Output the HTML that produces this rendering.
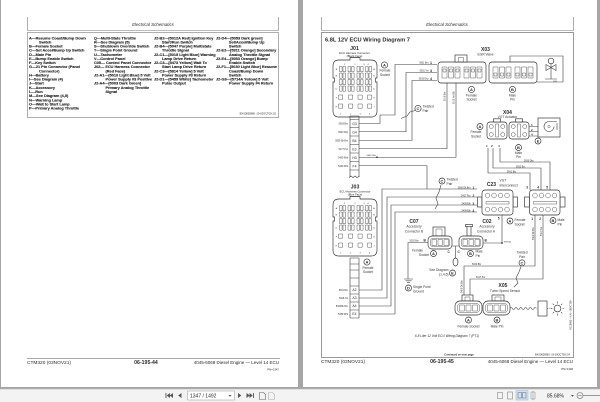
<!DOCTYPE html>
<html><head><meta charset="utf-8">
<style>
html,body{margin:0;padding:0;width:600px;height:402px;overflow:hidden;background:#a6a6a6}
svg{display:block}
text{font-family:"Liberation Sans",Arial,sans-serif;fill:#2a2a2a}
.lg text{font-size:3.85px;font-weight:bold;fill:#1c1c1c;stroke:#1c1c1c;stroke-width:0.12px}
.w{fill:none;stroke:#3c3c3c;stroke-width:.6}
.o{fill:#fff;stroke:#2e2e2e;stroke-width:.65}
.i{fill:none;stroke:#3a3a3a;stroke-width:.42}
.t{font-size:2.3px;fill:#333}
.s{font-size:3.3px;fill:#333}
.b{font-weight:bold}
.c{text-anchor:middle}
.e{text-anchor:end}
</style></head><body>
<svg xmlns="http://www.w3.org/2000/svg" width="600" height="402" viewBox="0 0 600 402">
<rect width="600" height="402" fill="#a6a6a6"/>
<rect x="1" y="0" width="297" height="387" fill="#fff"/>
<rect x="303" y="0" width="294" height="387" fill="#fff"/>
<rect x="0" y="389" width="600" height="13" fill="#f3f3f3"/>
<line x1="0" y1="389.2" x2="600" y2="389.2" stroke="#cfcfcf" stroke-width="0.6"/>

<!-- LEFT PAGE -->
<g fill="none" stroke="#7a7a7a" stroke-width="0.6">
<path d="M27.5,17 V30.5 H278.5 V17"/>
<rect x="27.5" y="32.5" width="251" height="85"/>
<line x1="27" y1="358.5" x2="280" y2="358.5" stroke="#555"/>
</g>
<text x="153" y="25.8" font-size="4.4" font-style="italic" class="c" fill="#444">Electrical Schematics</text>

<g class="lg">
<text x="29" y="39.3">A—Resume Coast/Bump Down</text>
<text x="39" y="43.4">Switch</text>
<text x="29" y="47.6">B—Female Socket</text>
<text x="29" y="51.7">C—Set Accel/Bump Up Switch</text>
<text x="29" y="55.8">D—Male Pin</text>
<text x="29" y="60">E—Bump Enable Switch</text>
<text x="29" y="64.1">F—Key Switch</text>
<text x="29" y="68.2">G—21 Pin Connector (Panel</text>
<text x="39" y="72.3">Connector)</text>
<text x="29" y="76.5">H—Battery</text>
<text x="29" y="80.6">I—See Diagram (4)</text>
<text x="29" y="84.7">J—Start</text>
<text x="29" y="88.9">K—Accessory</text>
<text x="29" y="93">L—Run</text>
<text x="29" y="97.1">M—See Diagram (4,5)</text>
<text x="29" y="101.3">N—Warning Lamp</text>
<text x="29" y="105.4">O—Wait to Start Lamp</text>
<text x="29" y="109.5">P—Primary Analog Throttle</text>

<text x="94" y="39.3">Q—Multi-State Throttle</text>
<text x="94" y="43.4">R—See Diagram (5)</text>
<text x="94" y="47.6">S—Shutdown Override Switch</text>
<text x="94" y="51.7">T—Single Point Ground</text>
<text x="94" y="55.8">U—Tachometer</text>
<text x="94" y="60">V—Control Panel</text>
<text x="94" y="64.1">C05— Control Panel Connector</text>
<text x="94" y="68.2">J02— ECU Harness Connector</text>
<text x="105.5" y="72.3">(Red Face)</text>
<text x="94" y="76.5">J2-A1—[5010 Light Blue] 5 Volt</text>
<text x="105.5" y="80.6">Power Supply #3 Positive</text>
<text x="94" y="84.7">J2-A4—[5003 Dark Green]</text>
<text x="105.5" y="88.9">Primary Analog Throttle</text>
<text x="105.5" y="93">Signal</text>

<text x="154" y="39.3">J2-B2—[5012A Red] Ignition Key</text>
<text x="162" y="43.4">Start/Run Switch</text>
<text x="154" y="47.6">J2-B4—[5047 Purple] Multistate</text>
<text x="162" y="51.7">Throttle Signal</text>
<text x="154" y="55.8">J2-C1—[5015 Light Blue] Warning</text>
<text x="162" y="60">Lamp Drive Return</text>
<text x="154" y="64.1">J2-C3—[5473 Yellow] Wait To</text>
<text x="162" y="68.2">Start Lamp Drive Return</text>
<text x="154" y="72.3">J2-C3—[5814 Yellow] 5 Volt</text>
<text x="162" y="76.5">Power Supply #3 Return</text>
<text x="154" y="80.6">J2-D1—[5459 White] Tachometer</text>
<text x="162" y="84.7">Pulse Output</text>

<text x="216" y="39.3">J2-D4—[5053 Dark green]</text>
<text x="229" y="43.4">Set/Accel/Bump Up</text>
<text x="229" y="47.6">Switch</text>
<text x="216" y="51.7">J2-E2—[5911 Orange] Secondary</text>
<text x="229" y="55.8">Analog Throttle Signal</text>
<text x="216" y="60">J2-E4—[5053 Orange] Bump</text>
<text x="229" y="64.1">Enable Switch</text>
<text x="216" y="68.2">J2-F1—[5030 Light Blue] Resume</text>
<text x="229" y="72.3">Coast/Bump Down</text>
<text x="229" y="76.5">Switch</text>
<text x="216" y="80.6">J2-G3—[5714A Yellow] 5 Volt</text>
<text x="229" y="84.7">Power Supply #4 Return</text>
</g>
<text x="276" y="114.5" font-size="2.6" class="e" fill="#555">BXS0828980 -19-03OCT09-1/2</text>

<text x="27" y="364" font-size="4.8">CTM320 (03NOV21)</text>
<text x="146" y="364" font-size="5.2" class="b c">06-195-44</text>
<text x="279" y="364" font-size="4.5" class="e">4045-6068 Diesel Engine — Level 14 ECU</text>
<text x="279" y="370.5" font-size="2.8" class="e">PN=1347</text>

<!-- RIGHT PAGE -->
<g fill="none" stroke="#7a7a7a" stroke-width="0.6">
<path d="M321.5,17 V30.5 H573.5 V17"/>
<rect x="321.5" y="32.5" width="252" height="325" stroke="#555"/>
</g>
<text x="447" y="25.8" font-size="4.4" font-style="italic" class="c" fill="#444">Electrical Schematics</text>
<text x="325" y="41.3" font-size="5.7" class="b">6.8L 12V ECU Wiring Diagram 7</text>

<!-- J01 -->
<text x="354.5" y="50" font-size="5.2" class="b c">J01</text>
<text x="354.5" y="53.8" font-size="2.8" class="c">ECU Harness Connector</text>
<text x="354.5" y="57" font-size="2.8" class="c">(Black Face)</text>
<g transform="translate(333,60)">
<path class="o" d="M6,0 H17 V-2.5 H27 V0 H38 Q44,0 44,6 V18 H42.5 V22 H44 V51 Q44,57 38,57 H6 Q0,57 0,51 V22 H1.5 V18 H0 V6 Q0,0 6,0 Z"/>
<path class="i" d="M6.5,6.5h2.6v5.2h-2.6zM10,6.5h2.6v5.2h-2.6zM15,6.5h2.6v5.2h-2.6zM18.5,6.5h2.6v5.2h-2.6zM24,6.5h2.6v5.2h-2.6zM27.5,6.5h2.6v5.2h-2.6zM32.5,6.5h2.6v5.2h-2.6zM36,6.5h2.6v5.2h-2.6z
M6.5,13h2.6v5.2h-2.6zM10,13h2.6v5.2h-2.6zM15,13h2.6v5.2h-2.6zM18.5,13h2.6v5.2h-2.6zM24,13h2.6v5.2h-2.6zM27.5,13h2.6v5.2h-2.6zM32.5,13h2.6v5.2h-2.6zM36,13h2.6v5.2h-2.6z
M6.5,19.5h2.6v5.2h-2.6zM10,19.5h2.6v5.2h-2.6zM15,19.5h2.6v5.2h-2.6zM18.5,19.5h2.6v5.2h-2.6zM24,19.5h2.6v5.2h-2.6zM27.5,19.5h2.6v5.2h-2.6zM32.5,19.5h2.6v5.2h-2.6zM36,19.5h2.6v5.2h-2.6z
M6.5,26h2.6v5.2h-2.6zM10,26h2.6v5.2h-2.6zM15,26h2.6v5.2h-2.6zM18.5,26h2.6v5.2h-2.6zM24,26h2.6v5.2h-2.6zM27.5,26h2.6v5.2h-2.6zM32.5,26h2.6v5.2h-2.6zM36,26h2.6v5.2h-2.6z
M5.5,35h4.2v4.2h-4.2zM15.5,35h4.2v4.2h-4.2zM25,35h4.2v4.2h-4.2zM34.5,35h4.2v4.2h-4.2z
M5.5,44h4.2v4.2h-4.2zM15.5,44h4.2v4.2h-4.2zM25,44h4.2v4.2h-4.2zM34.5,44h4.2v4.2h-4.2z"/>
<g font-size="2.2" class="c"><text x="3.4" y="10">A</text><text x="3.4" y="16.5">B</text><text x="3.4" y="29.5">D</text><text x="3.4" y="38.5">F</text><text x="3.4" y="47.5">H</text>
<text x="41" y="10">A</text><text x="41" y="16.5">B</text><text x="41" y="29.5">D</text><text x="41" y="38.5">G</text><text x="41" y="47.5">J</text>
<text x="11.5" y="5">1</text><text x="22" y="5">2</text><text x="31" y="5">3</text><text x="35" y="5">4</text>
<text x="7.6" y="54.5">1</text><text x="17.6" y="54.5">2</text><text x="27.1" y="54.5">3</text><text x="36.6" y="54.5">4</text></g>
</g>
<circle cx="384.5" cy="65" r="3.1" class="o" stroke-width="0.5"/><text x="384.5" y="66.5" font-size="4" class="b c">A</text>
<text x="385" y="71.5" class="s c">Female</text><text x="385" y="75.8" class="s c">Socket</text>

<!-- J01 strip -->
<g class="w" stroke="#333">
<path d="M350,116 V177 M359,116 V177 M350,116 H359 M350,119.5 H359 M350,127.5 H359 M350,136 H359 M350,144.5 H359 M350,153 H359 M350,161.5 H359 M350,170 H359"/>
<path d="M349,177.6 L351,176 L353,177.6 L355,176 L357,177.6 L359.5,176"/>
</g>
<g font-size="3.4" class="c"><text x="354.5" y="125">G3</text><text x="354.5" y="133.3">G4</text><text x="354.5" y="141.8">B4</text><text x="354.5" y="150.3">E3</text><text x="354.5" y="158.8">H3</text><text x="354.5" y="167.3">F4</text></g>
<g class="t e"><text x="348" y="124.6">5903 Brn</text><text x="348" y="132.9">5933 Dky</text><text x="348" y="141.4">5929 Dk Brn</text><text x="348" y="149.9">5477 Pur</text><text x="348" y="158.4">5459 Wht</text><text x="348" y="166.9">5460 Wht</text></g>

<!-- J03 -->
<text x="355" y="188.5" font-size="5.2" class="b c">J03</text>
<text x="355" y="192.3" font-size="2.8" class="c">ECU Harness Connector</text>
<text x="355" y="195.6" font-size="2.8" class="c">(Blue Face)</text>
<g transform="translate(333,199)">
<path class="o" d="M6,0 H17 V-2.5 H27 V0 H38 Q44,0 44,6 V18 H42.5 V22 H44 V51 Q44,57 38,57 H6 Q0,57 0,51 V22 H1.5 V18 H0 V6 Q0,0 6,0 Z"/>
<path class="i" d="M6.5,6.5h2.6v5.2h-2.6zM10,6.5h2.6v5.2h-2.6zM15,6.5h2.6v5.2h-2.6zM18.5,6.5h2.6v5.2h-2.6zM24,6.5h2.6v5.2h-2.6zM27.5,6.5h2.6v5.2h-2.6zM32.5,6.5h2.6v5.2h-2.6zM36,6.5h2.6v5.2h-2.6z
M6.5,13h2.6v5.2h-2.6zM10,13h2.6v5.2h-2.6zM15,13h2.6v5.2h-2.6zM18.5,13h2.6v5.2h-2.6zM24,13h2.6v5.2h-2.6zM27.5,13h2.6v5.2h-2.6zM32.5,13h2.6v5.2h-2.6zM36,13h2.6v5.2h-2.6z
M6.5,19.5h2.6v5.2h-2.6zM10,19.5h2.6v5.2h-2.6zM15,19.5h2.6v5.2h-2.6zM18.5,19.5h2.6v5.2h-2.6zM24,19.5h2.6v5.2h-2.6zM27.5,19.5h2.6v5.2h-2.6zM32.5,19.5h2.6v5.2h-2.6zM36,19.5h2.6v5.2h-2.6z
M6.5,26h2.6v5.2h-2.6zM10,26h2.6v5.2h-2.6zM15,26h2.6v5.2h-2.6zM18.5,26h2.6v5.2h-2.6zM24,26h2.6v5.2h-2.6zM27.5,26h2.6v5.2h-2.6zM32.5,26h2.6v5.2h-2.6zM36,26h2.6v5.2h-2.6z
M5.5,35h4.2v4.2h-4.2zM15.5,35h4.2v4.2h-4.2zM25,35h4.2v4.2h-4.2zM34.5,35h4.2v4.2h-4.2z
M5.5,44h4.2v4.2h-4.2zM15.5,44h4.2v4.2h-4.2zM25,44h4.2v4.2h-4.2zM34.5,44h4.2v4.2h-4.2z"/>
<g font-size="2.2" class="c"><text x="3.4" y="10">A</text><text x="3.4" y="16.5">B</text><text x="3.4" y="29.5">D</text><text x="3.4" y="38.5">F</text><text x="3.4" y="47.5">H</text>
<text x="41" y="10">A</text><text x="41" y="16.5">B</text><text x="41" y="29.5">D</text><text x="41" y="38.5">G</text><text x="41" y="47.5">J</text>
<text x="11.5" y="5">1</text><text x="22" y="5">2</text><text x="31" y="5">3</text><text x="35" y="5">4</text>
<text x="7.6" y="54.5">1</text><text x="17.6" y="54.5">2</text><text x="27.1" y="54.5">3</text><text x="36.6" y="54.5">4</text></g>
</g>
<g class="w" stroke="#333">
<path d="M350,258 V318 M359,258 V318 M350,258 H359 M350,264 H359 M350,270 H359 M350,278 H359 M350,286 H359 M350,294 H359 M350,302 H359 M350,310 H359 M350,318 H359"/>
</g>
<g font-size="3.4" class="c"><text x="354.5" y="291.2">A2</text><text x="354.5" y="299.2">A3</text><text x="354.5" y="307.2">A4</text><text x="354.5" y="315.2">E4</text></g>
<g class="t e"><text x="348" y="291">5911 Brn</text><text x="348" y="299">5918 Yel</text><text x="348" y="307">5460Dk Brn</text><text x="348" y="315">5459 Wht</text></g>
<circle cx="367" cy="262" r="3.1" class="o" stroke-width="0.5"/><text x="367" y="263.5" font-size="4" class="b c">A</text>
<text x="368" y="268.8" class="s c">Female</text><text x="368" y="273.2" class="s c">Socket</text>

<!-- WIRES -->
<g class="w">
<path d="M437,64.5 H395 V115 H380 V123.5 H359"/>
<path d="M437,72.5 H406 V131.75 H359"/>
<path d="M437,80.5 H412 V140.25 H359"/>
<path d="M447,83 V148.75 H359"/>
<path d="M456,83 V157.25 H359"/>
<path d="M359,165.75 H427 V189"/>
<path d="M359,290 H382 V189 H477"/>
<path d="M359,298 H387 V197 H477"/>
<path d="M359,306 H391 V205 H477"/>
<path d="M359,314 H395 V212 H477"/>
<path d="M488,148 V173 H530 V190"/>
<path d="M493,148 V168 H541 V190"/>
<path d="M500,148 V162 H550 V190"/>
<path d="M535,215 V266 H464 V295"/>
<path d="M543,215 V279 H470 V295"/>
<path d="M502,215 V243 H483"/>
<path d="M428,242.5 H408 V279"/>
<path d="M452,246 H459 M455.5,246 V258"/>
<path d="M529,126.5 H538 M529,131.5 H538 M529,136 H538"/>
<path d="M404,279 H413 M405.5,280.8 H411.5 M407,282.6 H410"/>
<path d="M415,110.5 L410,112 L407,116 L401,118.5"/>
<path d="M441,185 L439,192 L436,198 L438,204 L435,209"/>
<path d="M521,266.5 L519,272 L516,278 L518,283 L514,287"/>
</g>
<circle cx="377" cy="157.25" r="0.9" fill="#333"/>
<circle cx="502" cy="243" r="0.9" fill="#333"/>
<text x="366.5" y="155.8" font-size="2.2">5459 Wht</text>

<!-- X03 labels -->
<g class="t e"><text x="428.5" y="63.7">5911 Brn</text><text x="428.5" y="71.7">5931 Yel</text><text x="428.5" y="79.7">5933 Dky</text></g>
<g font-size="3.6" class="b"><text x="430" y="64">1</text><text x="430" y="72">3</text><text x="430" y="80">4</text></g>
<text transform="translate(445.6,101) rotate(-90)" class="t">5916 Brn</text>
<text transform="translate(454.6,104) rotate(-90)" class="t">5918 Yel Blk</text>

<!-- (C) twisted pair 1 -->
<circle cx="418" cy="108.5" r="3.1" class="o" stroke-width="0.5"/><text x="418" y="110" font-size="4" class="b c">C</text>
<text x="422.5" y="107.5" class="s">Twisted</text><text x="422.5" y="112" class="s">Pair</text>

<!-- X03 connectors -->
<text x="485.5" y="51" font-size="5" class="b c">X03</text>
<text x="485.5" y="55.3" class="s c">EGR Valve</text>
<rect x="438" y="62" width="48" height="21" rx="3" class="o"/>
<rect x="455" y="55" width="12" height="7" class="o"/>
<rect x="458.5" y="57.5" width="5" height="4.5" class="i"/>
<path class="i" d="M442,67h5v11h-5zM448.5,67h5v11h-5zM455,67h5v11h-5zM464,67h5v11h-5zM470.5,67h5v11h-5zM477,67h5v11h-5z
M443,69h3v3h-3zM449.5,69h3v3h-3zM456,69h3v3h-3zM465,69h3v3h-3zM471.5,69h3v3h-3zM478,69h3v3h-3z"/>
<rect x="489" y="62" width="48" height="21" rx="3" class="o"/>
<path class="i" d="M493,67h5v11h-5zM499.5,67h5v11h-5zM506,67h5v11h-5zM515,67h5v11h-5zM521.5,67h5v11h-5zM528,67h5v11h-5z
M494,73h3v3h-3zM500.5,73h3v3h-3zM507,73h3v3h-3zM516,73h3v3h-3zM522.5,73h3v3h-3zM529,73h3v3h-3z"/>
<path class="w" d="M537,82 H563 V56 H510 V62"/>
<circle cx="551" cy="61" r="2.8" class="o" stroke-width="0.5"/>
<path class="w" d="M546,64.5 L556,70.5 V64.5 L546,70.5 Z M551,63.8 V79 M545,79 H557"/>
<text x="553" y="81.8" font-size="1.8">5003</text>
<circle cx="471.5" cy="89.5" r="3.1" class="o" stroke-width="0.5"/><text x="471.5" y="91" font-size="4" class="b c">A</text>
<text x="471.5" y="96.3" class="s c">Female</text><text x="471.5" y="100.4" class="s c">Socket</text>
<circle cx="512.5" cy="89.5" r="3.1" class="o" stroke-width="0.5"/><text x="512.5" y="91" font-size="4" class="b c">B</text>
<text x="512.5" y="96.3" class="s c">Male</text><text x="512.5" y="100.4" class="s c">Pin</text>

<!-- X04 -->
<text x="507.5" y="113.8" font-size="5" class="b c">X04</text>
<text x="507.5" y="118" class="s c">VGT Actuator</text>
<rect x="487" y="122" width="20" height="17" rx="3" class="o"/>
<rect x="493.5" y="118.8" width="7" height="3.2" class="o"/>
<path class="i" d="M495.5,124h3v13h-3z"/>
<g class="i"><circle cx="491.3" cy="126.5" r="2"/><circle cx="502.7" cy="126.5" r="2"/><circle cx="491.3" cy="134.5" r="2"/><circle cx="502.7" cy="134.5" r="2"/></g>
<rect x="509" y="122" width="20" height="17" rx="3" class="o"/>
<rect x="515.5" y="118.8" width="7" height="3.2" class="o"/>
<path class="i" d="M517.5,124h3v13h-3z"/>
<g class="i"><circle cx="513.3" cy="126.5" r="2"/><circle cx="524.7" cy="126.5" r="2"/><circle cx="513.3" cy="134.5" r="2"/><circle cx="524.7" cy="134.5" r="2"/></g>
<g font-size="3" class="b"><text x="531" y="125.8">1</text><text x="531" y="130.8">2</text><text x="531" y="135.4">4</text>
<text x="486" y="146.8">1</text><text x="491" y="146.8">2</text><text x="498" y="146.8">4</text></g>
<rect x="538" y="118" width="22" height="19" class="o"/>
<path class="w" d="M557,121.5 H549 A5,5 0 1 0 554,126.5 M557,123 V130"/>
<circle cx="549" cy="126.5" r="1.2" class="i"/>
<circle cx="538" cy="141" r="3" class="o" stroke-width="0.5"/><text x="538" y="142.4" font-size="3.8" class="b c">E</text>
<circle cx="480" cy="126.5" r="3" class="o" stroke-width="0.5"/><text x="480" y="128" font-size="4" class="b c">A</text>
<text x="476" y="133" class="s c">Female</text><text x="476" y="137.4" class="s c">Socket</text>
<circle cx="518.5" cy="147.5" r="3" class="o" stroke-width="0.5"/><text x="518.5" y="149" font-size="4" class="b c">B</text>
<text x="518.5" y="153.8" class="s c">Male</text><text x="518.5" y="157.8" class="s c">Pin</text>
<g class="t"><text x="524" y="161.3">5930 Dky</text><text x="516" y="167.3">5932 Brn</text><text x="507" y="172.3">5931 Blu</text></g>

<!-- C23 -->
<text x="491.5" y="185.8" font-size="5" class="b c">C23</text>
<text x="499.5" y="181.5" class="s">VGT</text><text x="499.5" y="186.3" class="s">Interconnect</text>
<circle cx="442" cy="181" r="3" class="o" stroke-width="0.5"/><text x="442" y="182.5" font-size="4" class="b c">C</text>
<text x="446.5" y="180.3" class="s">Twisted</text><text x="446.5" y="184.8" class="s">Pair</text>
<g class="t e"><text x="470.5" y="188.3">5930 Dk Brn</text><text x="470.5" y="196.3">5417 Pur</text><text x="470.5" y="204.3">5409 Blk</text><text x="470.5" y="211.3">5409 Blk</text></g>
<g font-size="3.2" class="b"><text x="472.5" y="188.8">1</text><text x="472.5" y="196.8">2</text><text x="472.5" y="204.8">3</text><text x="472.5" y="211.8">4</text></g>
<rect x="477.5" y="197" width="4.5" height="10" class="o"/><rect x="513" y="197" width="4.5" height="10" class="o"/>
<rect x="482" y="190" width="31" height="25" rx="3" class="o"/>
<g class="i"><ellipse cx="487.5" cy="195.5" rx="2.3" ry="2.4"/><ellipse cx="494" cy="195.5" rx="2.3" ry="2.4"/><ellipse cx="500.5" cy="195.5" rx="2.3" ry="2.4"/><ellipse cx="507" cy="195.5" rx="2.3" ry="2.4"/>
<ellipse cx="487.5" cy="209.5" rx="2.3" ry="2.4"/><ellipse cx="494" cy="209.5" rx="2.3" ry="2.4"/><ellipse cx="500.5" cy="209.5" rx="2.3" ry="2.4"/><ellipse cx="507" cy="209.5" rx="2.3" ry="2.4"/>
<rect x="486" y="201.5" width="23" height="2.5"/></g>
<rect x="524.5" y="197" width="5" height="10" class="o"/><rect x="560" y="197" width="5" height="10" class="o"/>
<rect x="529.5" y="190" width="30.5" height="25" rx="3" class="o"/>
<g class="i"><ellipse cx="535" cy="195.5" rx="2.3" ry="2.4"/><ellipse cx="541.5" cy="195.5" rx="2.3" ry="2.4"/><ellipse cx="548" cy="195.5" rx="2.3" ry="2.4"/><ellipse cx="554.5" cy="195.5" rx="2.3" ry="2.4"/>
<ellipse cx="535" cy="209.5" rx="2.3" ry="2.4"/><ellipse cx="541.5" cy="209.5" rx="2.3" ry="2.4"/><ellipse cx="548" cy="209.5" rx="2.3" ry="2.4"/><ellipse cx="554.5" cy="209.5" rx="2.3" ry="2.4"/>
<rect x="533.5" y="201.5" width="23" height="2.5"/></g>
<g font-size="3.2" class="b"><text x="526.3" y="188.5">3</text><text x="537.3" y="188.5">4</text><text x="546.3" y="188.5">5</text>
<text x="531.3" y="220">1</text><text x="539.3" y="220">2</text><text x="497.8" y="219.5">5</text></g>
<text transform="translate(533.8,240) rotate(-90)" class="t">5409 Dk Brn</text>
<text transform="translate(541.8,236) rotate(-90)" class="t">5417 Pur</text>
<circle cx="510" cy="221" r="3" class="o" stroke-width="0.5"/><text x="510" y="222.5" font-size="4" class="b c">A</text>
<text x="514.5" y="220.8" class="s">Female</text><text x="514.5" y="225.3" class="s">Socket</text>
<circle cx="553" cy="220.5" r="3" class="o" stroke-width="0.5"/><text x="553" y="222" font-size="4" class="b c">B</text>
<text x="557.5" y="220.8" class="s">Male</text><text x="557.5" y="225.3" class="s">Pin</text>

<!-- C07 / C02 -->
<text x="414" y="222.8" font-size="5" class="b c">C07</text>
<text x="414" y="227.6" class="s c">Accessory</text><text x="414" y="232.3" class="s c">Connector B</text>
<text x="487" y="222.8" font-size="5" class="b c">C02</text>
<text x="487" y="227.6" class="s c">Accessory</text><text x="486" y="232.3" class="s c">Connector A</text>
<rect x="433" y="227" width="12" height="9" class="o"/><rect x="436" y="229" width="6" height="7" class="i"/>
<rect x="428" y="236" width="24" height="13" rx="4" class="o"/>
<rect x="430.5" y="238.5" width="19" height="8" rx="2" class="i"/>
<path class="i" d="M432,239.5h4.5v6h-4.5zM438,239.5h4.5v6h-4.5zM444,239.5h4.5v6h-4.5z"/>
<rect x="467" y="226" width="4" height="10" class="o"/><rect x="465.5" y="224.5" width="7" height="2" class="o"/>
<rect x="459" y="236" width="24" height="13" rx="4" class="o"/>
<rect x="461.5" y="238.5" width="19" height="8" rx="2" class="i"/>
<path class="i" d="M463,239.5h4.5v6h-4.5zM469,239.5h4.5v6h-4.5zM475,239.5h4.5v6h-4.5z"/>
<g font-size="3.2" class="b"><text x="423.5" y="241.6">B</text><text x="484.5" y="241.6">B</text><text x="447.5" y="253">C</text><text x="457.5" y="253">C</text></g>
<text x="409.5" y="241.5" class="t">5030 Brn</text>
<text x="504" y="242.3" font-size="2">SP0004</text>
<text x="423" y="251.3" class="s e">Female</text><text x="429" y="255.8" class="s e">Socket</text>
<circle cx="433.5" cy="253.5" r="3" class="o" stroke-width="0.5"/><text x="433.5" y="255" font-size="4" class="b c">A</text>
<circle cx="470.5" cy="253.5" r="3" class="o" stroke-width="0.5"/><text x="470.5" y="255" font-size="4" class="b c">B</text>
<text x="475.5" y="252.3" class="s">Male</text><text x="475.5" y="256.8" class="s">Pin</text>
<ellipse cx="455.5" cy="262" rx="2.5" ry="4" class="o" stroke-width="0.5"/>
<circle cx="452.5" cy="273" r="3" class="o" stroke-width="0.5"/><text x="452.5" y="274.5" font-size="4" class="b c">E</text>
<text x="448.5" y="271" class="s e">See Diagram</text><text x="448.5" y="275.5" class="s e">(1,4,6)</text>
<circle cx="408.5" cy="288" r="3" class="o" stroke-width="0.5"/><text x="408.5" y="289.5" font-size="4" class="b c">D</text>
<text x="413" y="288" class="s">Single Point</text><text x="413" y="292.5" class="s">Ground</text>
<g class="t"><text x="472" y="265.2">5030 Blk</text><text x="476" y="278.2">5417 Pur</text></g>
<text transform="translate(462.6,293) rotate(-90)" class="t">5409 Dk Brn</text>

<!-- twisted pair 3 -->
<text x="522" y="253.5" class="s c">Twisted</text><text x="522" y="258" class="s c">Pair</text>
<circle cx="522" cy="262.8" r="3" class="o" stroke-width="0.5"/><text x="522" y="264.3" font-size="4" class="b c">C</text>

<!-- X05 -->
<text x="503" y="287" font-size="5" class="b c">X05</text>
<text x="505" y="291.8" class="s c">Turbo Speed Sensor</text>
<rect x="462" y="295" width="11" height="6" class="o"/><rect x="465" y="297" width="5" height="4" class="i"/>
<rect x="455" y="301" width="27" height="14" rx="5" class="o"/>
<rect x="457.5" y="303.5" width="22" height="9" rx="3" class="i"/>
<path class="i" d="M459.5,305h5v6h-5zM466,305h5v6h-5zM472.5,305h5v6h-5z"/>
<rect x="492" y="295" width="12" height="6" class="o"/><rect x="495" y="297" width="6" height="4" class="i"/>
<rect x="483" y="301" width="27" height="14" rx="5" class="o"/>
<rect x="485.5" y="303.5" width="22" height="9" rx="3" class="i"/>
<path class="i" d="M487.5,305h5v6h-5zM494,305h5v6h-5zM500.5,305h5v6h-5z"/>
<path class="w" d="M510,308.5 q1.2,-2 2.4,0 t2.4,0 t2.4,0 t2.4,0 t2.4,0 t2.4,0 t2.4,0 t2.4,0 t2.4,0 t2.4,0 t2.4,0"/>
<rect x="538" y="301" width="9" height="15" class="o"/>
<path class="w" d="M547,308.5 H552" stroke-dasharray="1,0.8"/>
<circle cx="557.5" cy="308.5" r="3.4" class="o" stroke-width="0.5"/>
<path class="w" d="M557.5,303.5 V301.5 M557.5,313.5 V315.5 M552.5,308.5 H550.8 M562.5,308.5 H564.2 M554,305 L552.7,303.7 M561,305 L562.3,303.7 M554,312 L552.7,313.3 M561,312 L562.3,313.3"/>
<circle cx="468.5" cy="320" r="3" class="o" stroke-width="0.5"/><text x="468.5" y="321.5" font-size="4" class="b c">A</text>
<text x="468.5" y="327.3" class="s c">Female Socket</text>
<circle cx="497" cy="320" r="3" class="o" stroke-width="0.5"/><text x="497" y="321.5" font-size="4" class="b c">B</text>
<text x="497" y="327.3" class="s c">Male Pin</text>

<text x="447" y="337" font-size="3.2" font-style="italic" class="c">6.8 Liter 12 Volt ECU Wiring Diagram 7 (PT1)</text>
<text transform="translate(571.5,330) rotate(-90)" font-size="2.4">RG19803 —UN—08OCT09</text>
<text x="459" y="355.6" font-size="2.6" class="b c">Continued on next page</text>
<text x="570" y="355.6" font-size="2.5" class="e">BXS0828980 -19-03OCT09-2/4</text>

<text x="321" y="363" font-size="4.8">CTM320 (03NOV21)</text>
<text x="442" y="363" font-size="5.2" class="b c">06-195-45</text>
<text x="573" y="363" font-size="4.5" class="e">4045-6068 Diesel Engine — Level 14 ECU</text>
<text x="573" y="370" font-size="2.8" class="e">PN=1348</text>

<!-- TOOLBAR -->
<g fill="#555">
<rect x="165.5" y="393" width="0.9" height="5"/>
<polygon points="170,393 166.7,395.5 170,398"/>
<polygon points="173,393 169.7,395.5 173,398"/>
<polygon points="181.5,393 178.2,395.5 181.5,398"/>
<polygon points="238,393 241.3,395.5 238,398"/>
<polygon points="246.5,393 249.8,395.5 246.5,398"/>
<polygon points="249.5,393 252.8,395.5 249.5,398"/>
<rect x="253" y="393" width="0.9" height="5"/>
</g>
<rect x="187.5" y="391" width="47" height="9" fill="#fff" stroke="#a8a8a8" stroke-width="0.6"/>
<text x="190" y="397.6" font-size="5" fill="#333">1347 / 1492</text>
<polygon points="228.5,395 231.5,395 230,396.8" fill="#555"/>
<path d="M259.5,392.5 h4 l2,2 v5 h-6 z" fill="none" stroke="#667" stroke-width="0.6"/>
<path d="M268.5,392.5 h4 l2,2 v5 h-6 z" fill="none" stroke="#b0b0b0" stroke-width="0.6"/>

<rect x="497.5" y="392.5" width="5" height="6" fill="none" stroke="#888" stroke-width="0.6"/>
<rect x="507.5" y="392" width="5" height="7" fill="none" stroke="#888" stroke-width="0.6"/>
<rect x="516" y="390.5" width="12" height="9.5" fill="#cfe3f5" stroke="#8fb3d6" stroke-width="0.5"/>
<rect x="518" y="392.5" width="3.5" height="5.5" fill="none" stroke="#667" stroke-width="0.5"/>
<rect x="522.5" y="392.5" width="3.5" height="5.5" fill="none" stroke="#667" stroke-width="0.5"/>
<path d="M531,392 h4 v7 h-4z M533,390.8 v9.4" fill="none" stroke="#888" stroke-width="0.5"/>
<text x="547" y="397.6" font-size="5" fill="#333">85.68%</text>
<polygon points="571,395 574,395 572.5,396.8" fill="#555"/>
<circle cx="580" cy="395.5" r="3" fill="none" stroke="#666" stroke-width="0.6"/>
<line x1="578.3" y1="395.5" x2="581.7" y2="395.5" stroke="#666" stroke-width="0.6"/>
<line x1="583" y1="395.5" x2="600" y2="395.5" stroke="#777" stroke-width="0.7"/>
</svg>
</body></html>
